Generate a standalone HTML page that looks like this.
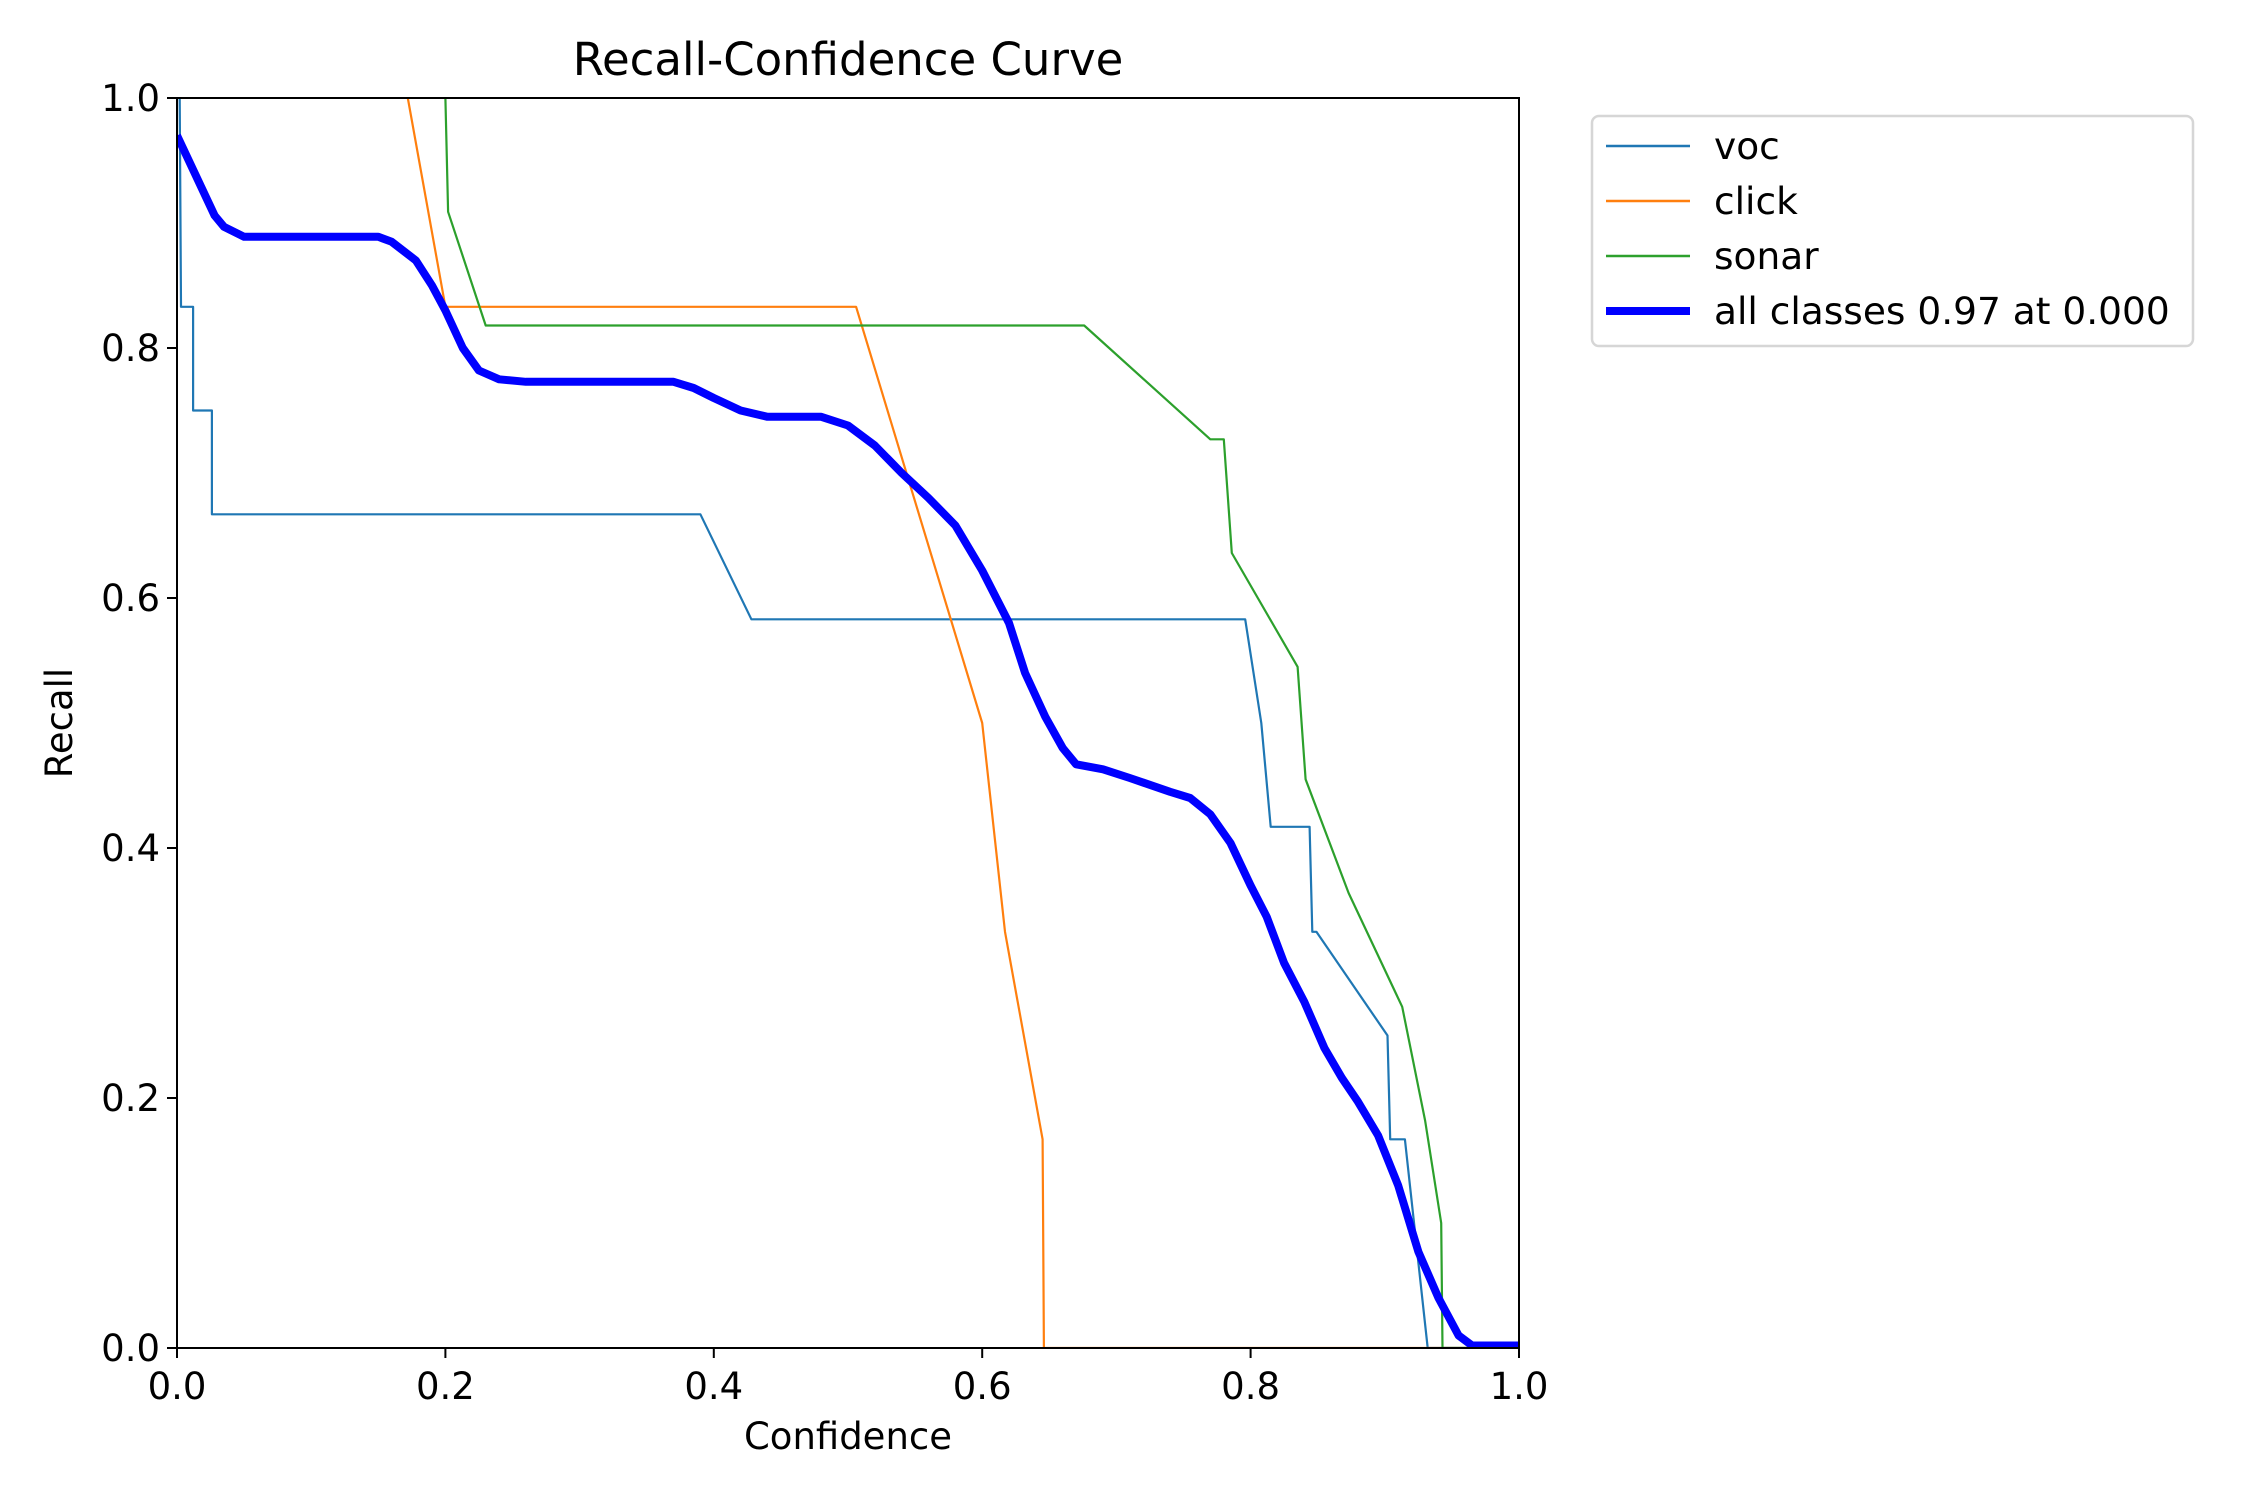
<!DOCTYPE html>
<html><head><meta charset="utf-8"><style>
html,body{margin:0;padding:0;background:#fff;}
svg text{font-family:"DejaVu Sans","Liberation Sans",sans-serif;fill:#000;}
</style></head><body>
<svg id="chart" width="2250" height="1500" xmlns="http://www.w3.org/2000/svg">
<rect width="2250" height="1500" fill="#fff"/>
<g id="plot"></g>
<g id="axes"></g>
<g id="legend"></g>
</svg>
<script>
const xTicks = [0.0, 0.2, 0.4, 0.6, 0.8, 1.0];
const yTicks = [0.0, 0.2, 0.4, 0.6, 0.8, 1.0];
const tickLabels = ["0.0","0.2","0.4","0.6","0.8","1.0"];
const vocX = [0.002,0.003,0.012,0.012,0.026,0.026,0.39,0.428,0.796,0.808,0.815,0.844,0.846,0.849,0.902,0.904,0.915,0.932,1.0];
const vocY = [1.0,0.833,0.833,0.75,0.75,0.667,0.667,0.583,0.583,0.5,0.417,0.417,0.333,0.333,0.25,0.167,0.167,0.0,0.0];
const clickX = [0.172,0.2,0.506,0.6,0.617,0.645,0.646,1.0];
const clickY = [1.0,0.833,0.833,0.5,0.333,0.167,0.0,0.0];
const sonarX = [0.2,0.202,0.23,0.676,0.77,0.78,0.786,0.835,0.841,0.873,0.913,0.93,0.942,0.943,1.0];
const sonarY = [1.0,0.909,0.818,0.818,0.727,0.727,0.636,0.545,0.455,0.364,0.273,0.182,0.1,0.0,0.0];
const allX = [0,0.028,0.035,0.05,0.15,0.16,0.178,0.19,0.2,0.213,0.225,0.24,0.26,0.37,0.385,0.4,0.42,0.44,0.48,0.5,0.52,0.54,0.56,0.58,0.6,0.62,0.632,0.647,0.66,0.67,0.69,0.71,0.74,0.755,0.77,0.785,0.8,0.812,0.825,0.84,0.855,0.868,0.88,0.895,0.91,0.925,0.94,0.955,0.965,1.0];
const allY = [0.97,0.906,0.897,0.889,0.889,0.885,0.87,0.85,0.83,0.8,0.782,0.775,0.773,0.773,0.768,0.76,0.75,0.745,0.745,0.738,0.722,0.7,0.68,0.658,0.622,0.58,0.54,0.505,0.48,0.467,0.463,0.456,0.445,0.44,0.427,0.404,0.37,0.345,0.308,0.277,0.24,0.216,0.197,0.17,0.13,0.077,0.04,0.01,0.002,0.002];

const L=177,R=1519,T=98,B=1348;
const NS="http://www.w3.org/2000/svg";
const sx=v=>L+v*(R-L), sy=v=>B-v*(B-T);
function mk(tag,attrs,parent){const e=document.createElementNS(NS,tag);for(const k in attrs)e.setAttribute(k,attrs[k]);parent.appendChild(e);return e;}
const plot=document.getElementById('plot'), axes=document.getElementById('axes'), leg=document.getElementById('legend');
const cp=mk('clipPath',{id:'clip'},plot);
mk('rect',{x:L,y:T,width:R-L,height:B-T},cp);
function line(xs,ys,color,w,name){
  const d=xs.map((x,i)=>(i?'L':'M')+sx(x).toFixed(1)+','+sy(ys[i]).toFixed(1)).join(' ');
  const p=mk('path',{d:d,fill:'none',stroke:color,'stroke-width':w,'stroke-linejoin':'round','clip-path':'url(#clip)'},plot);
  
  
}
line(vocX,vocY,'#1f77b4',2.2,'voc-line');
line(clickX,clickY,'#ff7f0e',2.2,'click-line');
line(sonarX,sonarY,'#2ca02c',2.2,'sonar-line');
line(allX,allY,'#0000ff',8,'all-classes-line');

const frame=mk('rect',{x:L,y:T,width:R-L,height:B-T,fill:'none',stroke:'#000','stroke-width':2},axes);


xTicks.forEach((v,i)=>{
  mk('line',{x1:sx(v),x2:sx(v),y1:B,y2:B+10,stroke:'#000','stroke-width':2},axes);
  const t=mk('text',{x:sx(v),y:B+51,'font-size':37,'text-anchor':'middle'},axes);t.textContent=tickLabels[i];
  
  
});
yTicks.forEach((v,i)=>{
  mk('line',{x1:L-10,x2:L,y1:sy(v),y2:sy(v),stroke:'#000','stroke-width':2},axes);
  const t=mk('text',{x:L-17,y:sy(v)+13,'font-size':37,'text-anchor':'end'},axes);t.textContent=tickLabels[i];
  
  
});
const xt=mk('text',{x:(L+R)/2,y:1449,'font-size':37,'text-anchor':'middle'},axes);xt.textContent='Confidence';


const yt=mk('text',{x:0,y:0,'font-size':37,'text-anchor':'middle',transform:`translate(72,${(T+B)/2}) rotate(-90)`},axes);yt.textContent='Recall';


const tt=mk('text',{x:(L+R)/2,y:75,'font-size':45,'text-anchor':'middle'},axes);tt.textContent='Recall-Confidence Curve';



const box=mk('rect',{x:1592,y:116,width:601,height:230,rx:7,fill:'#fff',stroke:'#d6d6d6','stroke-width':2.5},leg);


const entries=[['voc','#1f77b4',2.5],['click','#ff7f0e',2.5],['sonar','#2ca02c',2.5],['all classes 0.97 at 0.000','#0000ff',8]];
entries.forEach((e,i)=>{
  const y=146+i*55;
  mk('line',{x1:1606,x2:1690,y1:y,y2:y,stroke:e[1],'stroke-width':e[2]},leg);
  const t=mk('text',{x:1714,y:y+13,'font-size':37.5},leg);t.textContent=e[0];
  
  
});
</script>
</body></html>
